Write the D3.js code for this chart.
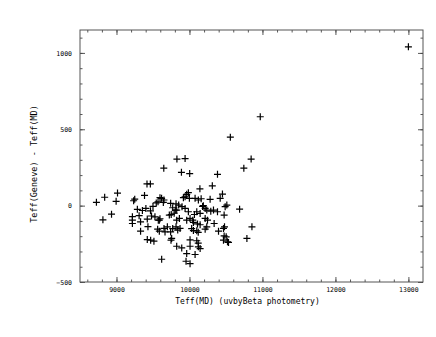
<!DOCTYPE html>
<html>
<head>
<meta charset="utf-8">
<script src="https://cdn.jsdelivr.net/npm/d3@7"></script>
<style>
  body { margin: 0; background: #fff; }
  text { font-family: "DejaVu Sans Mono", monospace; fill: #000; }
</style>
</head>
<body>
<div id="chart"></div>
<script>
// Teff(MD) from uvbyBeta photometry
const teffMD = [
  13000, 10970, 10560, 10845, 10745, 9828, 9940, 9648, 9890, 10003,
  10384, 9418, 9464, 10143, 10313, 10452, 8725, 8838, 9014, 8995,
  8932, 8814, 9250, 9235, 9384, 9286, 9355, 9310, 9218, 9218,
  9218, 9330, 9330, 9403, 9466, 9422, 9431, 9422, 9468, 9513,
  9527, 9573, 9596, 9564, 9587, 9651, 9665, 9619, 9697, 9742,
  9756, 9596, 9618, 9651, 9569, 9642, 9742, 9816, 9545, 9500,
  9480, 9750, 9724, 9790, 9770, 9825, 9825, 9862, 9871, 9825,
  9894, 9940, 9962, 9999, 9917, 10077, 10122, 9985, 9940, 9985,
  9962, 10008, 10054, 10030, 10054, 10100, 10146, 10110, 10146, 10100,
  10120, 9962, 9953, 10077, 10008, 10100, 10120, 10008, 10122, 10146,
  10008, 10215, 10237, 10292, 10329, 10384, 10215, 10247, 10237, 10215,
  10338, 10398, 10466, 10480, 10475, 10489, 10512, 10475, 10503, 10466,
  10521, 10535, 10687, 10856, 10787, 10283, 10421, 10190, 10160, 10068,
  10045, 9770, 9816, 9839, 9747, 9852, 9898, 9806, 9587, 10180
];
// Teff(Geneve) - Teff(MD)
const teffDiff = [
  1040, 582, 448, 305, 245, 305, 308, 245, 218, 210,
  205, 142, 142, 110, 130, 76, 22, 55, 82, 28,
  -56, -93, 42, 32, 67, -24, -32, -66, -72, -95,
  -117, -106, -167, -18, -34, -88, -138, -222, -226, -233,
  -73, -95, -86, -154, -167, -149, -172, -351, -139, -172,
  -215, 52, 48, 37, 25, 21, 15, 12, 18, -5,
  -68, -58, -62, -50, -14, -29, -95, -84, -149, -266,
  -277, 58, 74, 48, 52, 48, 37, 85, -18, -40,
  -95, -84, -110, -150, -163, -40, -51, -120, -125, -165,
  -175, -314, -364, -320, -224, -230, -246, -266, -270, -281,
  -380, -18, -29, -36, -29, -40, -84, -95, -139, -154,
  -117, -167, -149, -139, -62, -7, 4, -198, -204, -226,
  -237, -241, -23, -139, -215, 41, 48, 0, 45, -58,
  -95, -150, -139, -160, -226, 4, -7, -29, -95, -5
];

const xMajor = [9000, 10000, 11000, 12000, 13000];
const xMinor = d3.range(8600, 13200, 200);
const yMajor = [-500, 0, 500, 1000];
const yMinor = d3.range(-500, 1150, 100);

const xTitle = "Teff(MD) (uvbyBeta photometry)";
const yTitle = "Teff(Geneve) - Teff(MD)";

const chart = {
    W: 436,
    H: 337,
    margin: { top: 30, right: 13, bottom: 55, left: 80 },

    init(container) {
        const m = this.margin;
        const w = this.W - m.left - m.right;
        const h = this.H - m.top - m.bottom;

        const svg = d3.select(container).append("svg")
            .attr("width", this.W)
            .attr("height", this.H);

        const g = svg.append("g")
            .attr("transform", `translate(${m.left},${m.top})`);

        const x = d3.scaleLinear().domain([8500, 13200]).range([0, w]);
        const y = d3.scaleLinear().domain([-500, 1150]).range([h, 0]);

        const tickStyle = sel => {
            sel.select(".domain").remove();
            sel.selectAll(".tick line").attr("stroke", "#444").attr("stroke-width", 0.9);
            sel.selectAll(".tick text").style("font-size", "6.5px");
        };

        // minor ticks, all four sides
        g.append("g").attr("transform", `translate(0,${h})`)
            .call(d3.axisBottom(x).tickValues(xMinor).tickSize(-2.5).tickFormat(""))
            .call(tickStyle);
        g.append("g")
            .call(d3.axisTop(x).tickValues(xMinor).tickSize(-2.5).tickFormat(""))
            .call(tickStyle);
        g.append("g")
            .call(d3.axisLeft(y).tickValues(yMinor).tickSize(-2.5).tickFormat(""))
            .call(tickStyle);
        g.append("g").attr("transform", `translate(${w},0)`)
            .call(d3.axisRight(y).tickValues(yMinor).tickSize(-2.5).tickFormat(""))
            .call(tickStyle);

        // major ticks
        g.append("g").attr("transform", `translate(0,${h})`)
            .call(d3.axisBottom(x).tickValues(xMajor).tickSize(-5).tickPadding(5).tickFormat(d3.format("d")))
            .call(tickStyle);
        g.append("g")
            .call(d3.axisTop(x).tickValues(xMajor).tickSize(-5).tickFormat(""))
            .call(tickStyle);
        g.append("g")
            .call(d3.axisLeft(y).tickValues(yMajor).tickSize(-5).tickPadding(8).tickFormat(d3.format("d")))
            .call(tickStyle);
        g.append("g").attr("transform", `translate(${w},0)`)
            .call(d3.axisRight(y).tickValues(yMajor).tickSize(-5).tickFormat(""))
            .call(tickStyle);

        // frame
        g.append("rect")
            .attr("width", w)
            .attr("height", h)
            .attr("fill", "none")
            .attr("stroke", "#555")
            .attr("stroke-width", 1);

        // points as plus signs
        g.append("g").selectAll("path")
            .data(d3.zip(teffMD, teffDiff))
            .join("path")
            .attr("transform", d => `translate(${x(d[0])},${y(d[1])})`)
            .attr("d", "M-3.5,0H3.5M0,-3.5V3.5")
            .attr("stroke", "#000")
            .attr("stroke-width", 1.2)
            .attr("fill", "none");

        // axis titles
        g.append("text")
            .attr("x", w / 2 - 4)
            .attr("y", h + 22)
            .attr("text-anchor", "middle")
            .style("font-size", "8px")
            .text(xTitle);

        g.append("text")
            .attr("transform", "rotate(-90)")
            .attr("x", -h / 2 - 8)
            .attr("y", -43)
            .attr("text-anchor", "middle")
            .style("font-size", "8.5px")
            .text(yTitle);
    }
};

chart.init(document.getElementById("chart"));
</script>
</body>
</html>
